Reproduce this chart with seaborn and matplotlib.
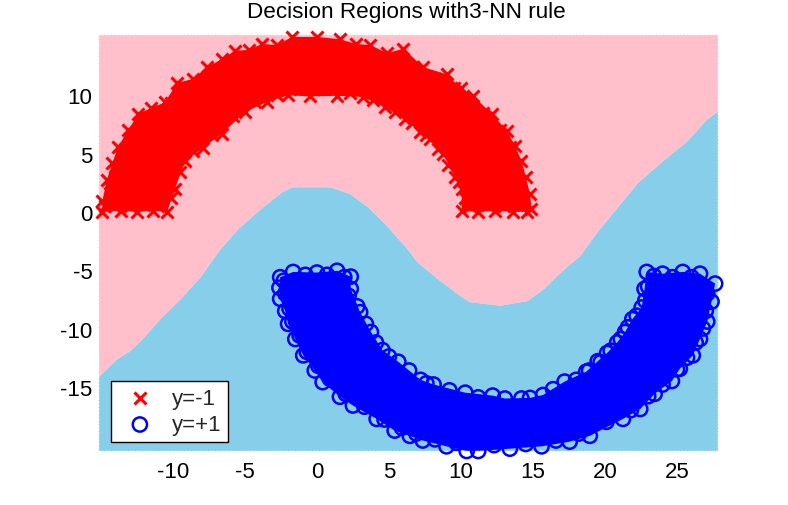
#!/usr/bin/env python3
# -*- coding: utf-8 -*-
import numpy as np
import matplotlib
matplotlib.use('Agg')
import matplotlib.pyplot as plt
import seaborn as sns

# Boundary between the two decision regions
bound_x = [-15.2, -13.9, -13.0, -12.15, -10.9, -9.5, -8.1, -6.75, -5.5, -3.75, -2.45, -1.75,
           0.9, 2.3, 3.5, 4.85, 6.25, 6.95, 8.55, 9.95, 10.6, 12.7, 14.6, 15.7, 17.0, 18.25,
           19.45, 21.05, 22.3, 24.15, 25.7, 27.1, 27.85]
bound_y = [-14.15, -12.6, -11.9, -10.9, -9.15, -7.45, -5.55, -3.2, -1.45, 0.45, 1.7, 2.15,
           2.15, 1.55, 0.45, -1.2, -3.15, -4.3, -5.9, -7.2, -7.7, -8.0, -7.6, -6.6, -5.05, -3.75,
           -1.7, 0.7, 2.55, 4.55, 6.1, 8.0, 8.65]

# The inside of both moons is solid overplotting, single markers can only be read on the rim.
# Rim points go clockwise, outer edge first, and the same points close the solid area.
red_x = [-14.9, -14.9, -14.6, -14.2, -13.8, -13.1, -12.4, -11.5, -10.55, -9.7, -8.6, -7.6, -6.6,
         -5.7, -4.7, -3.8, -2.8, -1.7, 0.0, 1.6, 2.7, 3.7, 4.9, 6.0, 7.4, 9.0, 10.0, 10.85, 12.15,
         13.2, 13.75, 14.2, 14.5, 14.8, 14.9, 14.6, 13.6, 12.4, 11.2, 10.05,
         10.05, 9.6, 8.75, 7.85, 7.15, 6.1, 4.7, 3.2, 1.4, -0.5, -2.0, -3.5, -5.0, -6.6, -7.9,
         -9.15, -9.85, -10.4, -11.4, -12.5, -13.6]
red_y = [0.0, 0.9, 2.7, 4.2, 5.6, 7.0, 8.4, 8.9, 9.4, 11.05, 11.4, 12.4, 13.1,
         13.8, 13.9, 14.4, 14.3, 15.0, 15.0, 14.8, 14.4, 14.3, 13.6, 14.0, 12.4, 11.8, 10.6, 9.95, 8.4,
         6.95, 5.65, 4.4, 3.0, 1.55, 0.25, 0.0, 0.0, 0.1, 0.0, 0.1,
         2.0, 3.0, 5.0, 6.25, 6.85, 8.0, 9.0, 9.85, 9.95, 9.9, 10.0, 9.4, 8.55, 6.7, 5.5,
         4.35, 2.0, 0.0, 0.1, 0.0, 0.1]

# Crosses just inside the rim, they close the gaps between the rim crosses
red_in_x = [-14.7, -14.4, -14.0, -13.6, -13.3, -12.8, -12.2, -11.6, -11.0, -10.1, -9.2, -8.2, -7.1,
            -6.2, -5.2, -4.3, -3.3, -2.3, -0.9, 0.8, 2.2, 3.2, 4.3, 5.4, 6.7, 8.2, 9.5, 10.4, 11.5,
            12.7, 13.4, 13.9, 14.1, 14.4, 13.0, 11.8, 10.6, 10.3, 9.9, 9.1, 8.4, 7.6, 6.6, 5.4,
            3.9, 2.3, 0.5, -1.2, -2.8, -4.3, -5.8, -7.3, -8.6, -9.5, -10.1, -11.0, -12.0, -13.0, -14.1]
red_in_y = [0.5, 1.6, 3.0, 4.2, 5.4, 6.3, 7.2, 7.8, 8.3, 9.3, 10.0, 10.6, 11.9,
            12.4, 13.0, 13.3, 13.6, 14.0, 14.4, 14.2, 14.0, 13.7, 13.3, 13.1, 12.4, 11.4, 10.6, 9.5, 8.5,
            7.0, 5.6, 4.0, 2.6, 1.2, 0.5, 0.6, 0.5, 1.2, 2.6, 4.0, 5.4, 6.6, 7.6, 8.6,
            9.6, 10.2, 10.5, 10.5, 10.0, 9.4, 8.2, 6.6, 5.2, 3.4, 1.2, 0.5, 0.6, 0.5, 0.5]

blue_x = [-2.55, -2.6, -2.55, -2.2, -2.0, -1.5, -0.95, -0.15, 0.4, 1.6, 2.5, 4.15, 5.4, 6.45, 7.35,
          9.0, 10.4, 11.2, 13.4, 15.6, 17.55, 18.95, 21.25, 22.45, 23.45, 24.65, 25.2, 26.1, 26.6,
          27.1, 27.4, 27.65, 26.6, 25.4, 24.0, 22.9,
          22.75, 22.55, 21.9, 21.4, 20.85, 20.15, 19.5, 18.7, 17.2, 15.7, 14.8, 13.05, 12.2, 10.3,
          8.1, 7.2, 5.65, 4.55, 3.75, 3.0, 2.35, 2.35, 1.4, 0.0, -1.65]
blue_y = [-5.6, -6.5, -7.45, -8.5, -9.6, -10.9, -12.3, -13.6, -14.6, -15.85, -16.6, -17.75, -18.75,
          -19.2, -19.6, -20.1, -20.5, -20.5, -20.3, -20.1, -19.7, -19.2, -17.75, -16.9, -15.6, -14.5,
          -13.45, -12.3, -10.9, -9.4, -7.7, -6.15, -5.3, -5.15, -5.3, -5.15,
          -6.6, -8.2, -9.2, -10.3, -11.2, -12.1, -12.8, -13.7, -14.55, -15.7, -15.95, -16.0, -15.75, -15.5,
          -14.8, -14.4, -12.85, -11.85, -10.3, -8.6, -6.6, -5.55, -5.05, -5.2, -5.15]

blue_in_x = [-2.3, -2.2, -1.9, -1.7, -1.2, -0.7, 0.1, 0.9, 2.0, 3.3, 4.7, 5.9, 6.9, 8.2, 9.7,
             12.3, 14.5, 16.6, 18.2, 20.1, 21.8, 23.0, 24.0, 25.0, 25.7, 26.3, 26.8, 27.0, 27.1,
             26.0, 24.7, 23.4, 23.0, 22.8, 22.2, 21.6, 21.1, 20.4, 19.7, 18.9, 18.0, 16.4, 14.2,
             11.2, 9.2, 7.6, 6.4, 5.0, 4.1, 3.4, 2.8, 2.2, 1.9, 0.7, -0.8]
blue_in_y = [-5.9, -7.0, -8.3, -9.4, -10.6, -12.0, -13.2, -14.3, -15.6, -16.7, -17.8, -18.5, -19.0,
             -19.5, -19.8, -20.0, -19.9, -19.6, -19.0, -18.0, -17.0, -15.8, -14.8, -13.5, -12.5,
             -11.2, -10.0, -8.5, -7.0, -5.6, -5.6, -5.5, -6.4, -7.6, -8.9, -9.9, -10.9, -11.9,
             -12.9, -13.6, -14.4, -15.2, -16.0, -15.9, -15.3, -14.7, -13.6, -12.4, -11.2, -9.6,
             -8.1, -7.2, -5.6, -5.4, -5.4]

x_ticks = [-10, -5, 0, 5, 10, 15, 20, 25]
y_ticks = [-15, -10, -5, 0, 5, 10]

sns.set_style('white')
plt.rcParams['font.family'] = ['Liberation Sans', 'DejaVu Sans']
plt.rcParams['axes.unicode_minus'] = False

fig = plt.figure(figsize=(7.88, 5.06), dpi=100)
ax = fig.add_axes([98 / 788, 1 - 452 / 506, 620 / 788, 417 / 506])

# Decision regions
ax.fill_between(bound_x, bound_y, 15.25, color='#ffc0cb', lw=0)
ax.fill_between(bound_x, -20.5, bound_y, color='#87ceeb', lw=0)

# Solid part of the moons
ax.fill(red_x, red_y, color='red', lw=0)
ax.fill(blue_x, blue_y, color='blue', lw=0)

sns.scatterplot(x=red_x + red_in_x, y=red_y + red_in_y, marker='x', color='red', s=75, linewidth=2.2,
                label='y=-1', ax=ax, clip_on=False, zorder=3)
sns.scatterplot(x=blue_x + blue_in_x, y=blue_y + blue_in_y, marker='o', facecolor='none',
                edgecolor='blue', s=105, linewidth=1.8, label='y=+1', ax=ax, clip_on=False, zorder=3)

ax.set_xlim(-15.2, 27.85)
ax.set_ylim(-20.5, 15.25)
ax.set_xticks(x_ticks)
ax.set_yticks(y_ticks)
ax.tick_params(length=0, labelsize=16, colors='black')
ax.tick_params(axis='x', pad=7)
ax.tick_params(axis='y', pad=4)
ax.set_title('Decision Regions with3-NN rule', fontsize=16.2, pad=12, color='black', x=0.497)

for spine in ax.spines.values():
    spine.set_visible(True)
    spine.set_color('white')
    spine.set_linestyle((0, (1, 1.5)))
    spine.set_linewidth(1)

leg = ax.legend(loc='lower left', bbox_to_anchor=(13 / 620, 9 / 417), fontsize=16, frameon=True,
                fancybox=False, framealpha=1, edgecolor='black', borderaxespad=0,
                borderpad=0.3, labelspacing=0.25, handletextpad=0.45, handlelength=2.0)
leg.get_frame().set_linewidth(1)
leg.set_zorder(5)

fig.savefig('out.png', dpi=100)
plt.close()
